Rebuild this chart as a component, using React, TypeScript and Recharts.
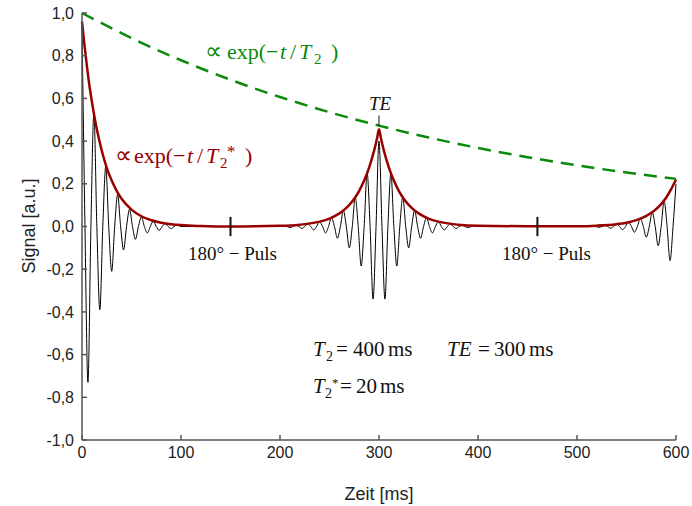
import React from 'react';
import { LineChart, Line, XAxis, YAxis, ReferenceLine } from 'recharts';

// x ticks (ms) and y ticks (a.u.)
const X_TICKS = [0, 100, 200, 300, 400, 500, 600];
const Y_TICKS = [-1, -0.8, -0.6, -0.4, -0.2, 0, 0.2, 0.4, 0.6, 0.8, 1];

const SIG_T = [
  0, 3, 6, 9, 12, 15, 18, 21, 24, 27, 30, 33, 36, 39, 42, 45, 48, 51, 54, 57, 60, 63, 66, 69, 72, 75, 78, 81, 84, 87, 90, 93, 96,
  100, 150, 200,
  204, 207, 210, 213, 216, 219, 222, 225, 228, 231, 234, 237, 240, 243, 246, 249, 252, 255, 258, 261, 264, 267, 270, 273, 276, 279, 282, 285, 288, 291, 294, 297,
  300, 303, 306, 309, 312, 315, 318, 321, 324, 327, 330, 333, 336, 339, 342, 345, 348, 351, 354, 357, 360, 363, 366, 369, 372, 375, 378, 381, 384, 387, 390, 393, 396,
  400, 460, 510,
  516, 519, 522, 525, 528, 531, 534, 537, 540, 543, 546, 549, 552, 555, 558, 561, 564, 567, 570, 573, 576, 579, 582, 585, 588, 591, 594, 597, 600,
];
const SIG_V = [
  0.95, 0, -0.73, 0, 0.53, 0, -0.39, 0, 0.28, 0, -0.21, 0, 0.15, 0, -0.11, 0, 0.08, 0, -0.06, 0, 0.045, 0, -0.03, 0, 0.025, 0, -0.018, 0, 0.013, 0, -0.01, 0, 0.007,
  0, 0, 0,
  0.0035, 0, -0.005, 0, 0.0065, 0, -0.009, 0, 0.012, 0, -0.016, 0, 0.022, 0, -0.03, 0, 0.041, 0, -0.055, 0, 0.075, 0, -0.1, 0, 0.137, 0, -0.185, 0, 0.25, 0, -0.34, 0,
  0.4, 0, -0.34, 0, 0.25, 0, -0.185, 0, 0.137, 0, -0.1, 0, 0.075, 0, -0.055, 0, 0.041, 0, -0.03, 0, 0.022, 0, -0.016, 0, 0.012, 0, -0.009, 0, 0.0065, 0, -0.005, 0, 0.0035,
  0, 0, 0,
  0.003, 0, -0.004, 0, 0.006, 0, -0.008, 0, 0.011, 0, -0.015, 0, 0.02, 0, -0.027, 0, 0.037, 0, -0.05, 0, 0.067, 0, -0.09, 0, 0.12, 0, -0.16, 0, 0.2,
];

// T2* envelope (dark red)
const ENV_T = [
  0, 2.5, 5, 7.5, 10, 15, 20, 25, 30, 35, 40, 50, 60, 70, 80, 90, 100, 120, 150,
  200, 220, 240, 250, 260, 265, 270, 275, 280, 285, 290, 295, 298, 300, 302, 305, 310, 315, 320, 325, 330, 335, 340, 350, 360, 380, 400,
  450, 500, 520, 540, 550, 560, 570, 575, 580, 585, 590, 595, 600,
];
const ENV_V = [
  0.96, 0.85, 0.75, 0.66, 0.585, 0.455, 0.355, 0.275, 0.215, 0.167, 0.13, 0.079, 0.048, 0.029, 0.018, 0.011, 0.0066, 0.0024, 0,
  0.003, 0.0083, 0.0227, 0.0373, 0.0616, 0.079, 0.1015, 0.13, 0.167, 0.215, 0.276, 0.354, 0.412, 0.455, 0.412, 0.354, 0.276, 0.215, 0.167, 0.13, 0.1015, 0.079, 0.0616, 0.0373, 0.0227, 0.0083, 0.003,
  0.001, 0.0015, 0.004, 0.011, 0.018, 0.03, 0.05, 0.064, 0.082, 0.105, 0.135, 0.174, 0.22,
];

// T2 decay (green dashed)
const T2_T = [0, 50, 100, 150, 200, 250, 300, 350, 400, 450, 500, 550, 600];
const T2_V = [1.0, 0.8825, 0.7788, 0.6873, 0.6065, 0.5353, 0.4724, 0.4169, 0.3679, 0.3247, 0.2865, 0.2528, 0.2231];

const PULSES = [150, 460];
const ECHO = 300;

const signal = SIG_T.map((t, i) => ({ t, v: SIG_V[i] }));
const envelope = ENV_T.map((t, i) => ({ t, v: ENV_V[i] }));
const t2decay = T2_T.map((t, i) => ({ t, v: T2_V[i] }));

const W = 692;
const H = 506;
const AXIS = '#555';
const GREEN = '#0a8a0a';
const RED = '#990000';
const SERIF = '"Liberation Serif", "Times New Roman", serif';
const SANS = '"Liberation Sans", Arial, sans-serif';

const fmt = (v: number) => v.toFixed(1).replace('.', ',');

const App: React.FC = () => {
  const tickStyle = { fontSize: 16, fill: '#222', fontFamily: SANS };
  const tl = { stroke: AXIS, strokeWidth: 1.5 };
  return (
    <div style={{ position: 'absolute', left: 0, top: 0, width: W, height: H, background: '#fff' }}>
      <LineChart width={W} height={H} margin={{ top: 13, right: 16, left: 0, bottom: 0 }}>
        <XAxis dataKey="t" type="number" domain={[0, 600]} ticks={X_TICKS} height={66}
          stroke={AXIS} strokeWidth={1.5} tickLine={tl} tickSize={-5} tickMargin={12} tick={tickStyle} />
        <XAxis xAxisId="top" orientation="top" dataKey="t" type="number" domain={[0, 600]} ticks={X_TICKS} height={0}
          stroke={AXIS} strokeWidth={1.5} tickLine={tl} tickSize={-5} tick={false} />
        <YAxis type="number" domain={[-1, 1]} ticks={Y_TICKS} width={82} tickFormatter={fmt}
          stroke={AXIS} strokeWidth={1.5} tickLine={tl} tickSize={-5} tickMargin={13} tick={tickStyle} />
        <YAxis yAxisId="right" orientation="right" type="number" domain={[-1, 1]} ticks={Y_TICKS} width={0}
          stroke={AXIS} strokeWidth={1.5} tickLine={tl} tickSize={-5} tick={false} />

        <Line data={signal} dataKey="v" type="monotone" stroke="#000" strokeWidth={1} dot={false} isAnimationActive={false} />
        <Line data={envelope} dataKey="v" type="monotone" stroke={RED} strokeWidth={2.5} dot={false} isAnimationActive={false} />
        <Line data={t2decay} dataKey="v" type="monotone" stroke={GREEN} strokeWidth={2.5} strokeDasharray="13 8" dot={false} isAnimationActive={false} />

        {PULSES.map(p => (
          <ReferenceLine key={p} segment={[{ x: p, y: -0.045 }, { x: p, y: 0.045 }]} stroke="#111" strokeWidth={2} />
        ))}
        <ReferenceLine segment={[{ x: ECHO, y: 0.47 }, { x: ECHO, y: 0.52 }]} stroke="#111" strokeWidth={1} />
      </LineChart>

      <svg width={W} height={H} style={{ position: 'absolute', left: 0, top: 0, pointerEvents: 'none' }}>
        <text x={30} y={226} transform="rotate(-90 30 226)" textAnchor="middle" dominantBaseline="middle"
          fontFamily={SANS} fontSize={18} fill="#222">Signal [a.u.]</text>
        <text x={379} y={500} textAnchor="middle" fontFamily={SANS} fontSize={18} fill="#222">Zeit [ms]</text>

        {/* ∝ exp(-t/T2) */}
        <text y={59} fontFamily={SERIF} fontSize={22} fill={GREEN}>
          <tspan x={205} fontSize={24}>∝</tspan>
          <tspan x={227}>exp(</tspan>
          <tspan x={266}>−</tspan>
          <tspan x={280} fontStyle="italic">t</tspan>
          <tspan x={290}>/</tspan>
          <tspan x={299} fontStyle="italic">T</tspan>
          <tspan x={314} fontSize={15} dy={5}>2</tspan>
          <tspan x={331} dy={-5}>)</tspan>
        </text>
        {/* ∝ exp(-t/T2*) */}
        <text y={163} fontFamily={SERIF} fontSize={22} fill={RED}>
          <tspan x={115} fontSize={24}>∝</tspan>
          <tspan x={134}>exp(</tspan>
          <tspan x={173}>−</tspan>
          <tspan x={187} fontStyle="italic">t</tspan>
          <tspan x={197}>/</tspan>
          <tspan x={206} fontStyle="italic">T</tspan>
          <tspan x={220} fontSize={15} dy={5}>2</tspan>
        </text>
        <text x={227} y={157} fontFamily={SERIF} fontSize={17} fill={RED}>*</text>
        <text x={245} y={163} fontFamily={SERIF} fontSize={22} fill={RED}>)</text>

        <text x={380} y={110} textAnchor="middle" fontFamily={SERIF} fontSize={19} fontStyle="italic" fill="#111">TE</text>
        <text x={188} y={260} textLength={89} lengthAdjust="spacing" fontFamily={SERIF} fontSize={19} fill="#111">180° − Puls</text>
        <text x={502} y={260} textLength={89} lengthAdjust="spacing" fontFamily={SERIF} fontSize={19} fill="#111">180° − Puls</text>

        {/* parameters */}
        <text y={356} fontFamily={SERIF} fontSize={21} fill="#111">
          <tspan x={313} fontStyle="italic">T</tspan>
          <tspan x={326} fontSize={14} dy={5}>2</tspan>
          <tspan x={336} dy={-5}>=</tspan>
          <tspan x={353}>400</tspan>
          <tspan x={388}>ms</tspan>
        </text>
        <text y={356} fontFamily={SERIF} fontSize={21} fill="#111">
          <tspan x={447} fontStyle="italic">TE</tspan>
          <tspan x={478}>=</tspan>
          <tspan x={494}>300</tspan>
          <tspan x={529}>ms</tspan>
        </text>
        <text y={393} fontFamily={SERIF} fontSize={21} fill="#111">
          <tspan x={313} fontStyle="italic">T</tspan>
          <tspan x={325} fontSize={14} dy={5}>2</tspan>
        </text>
        <text x={332} y={387} fontFamily={SERIF} fontSize={13} fill="#111">*</text>
        <text y={393} fontFamily={SERIF} fontSize={21} fill="#111">
          <tspan x={340}>=</tspan>
          <tspan x={356}>20</tspan>
          <tspan x={380}>ms</tspan>
        </text>
      </svg>
    </div>
  );
};

export default App;
